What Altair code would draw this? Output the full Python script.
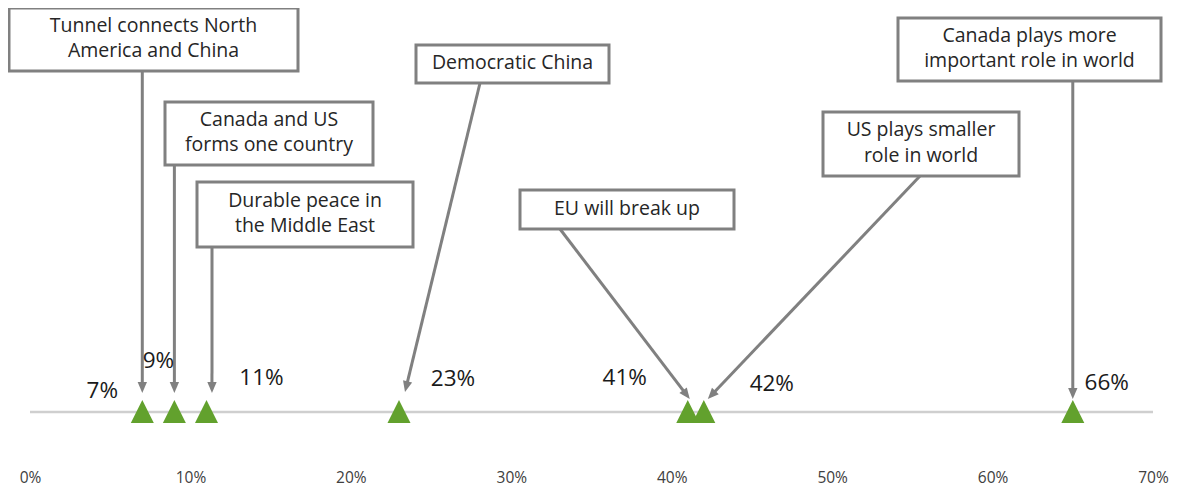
import math
import altair as alt
import pandas as pd

# ---------------- data ----------------
events = [
    "Tunnel connects North\nAmerica and China",
    "Canada and US\nforms one country",
    "Durable peace in\nthe Middle East",
    "Democratic China",
    "EU will break up",
    "US plays smaller\nrole in world",
    "Canada plays more\nimportant role in world",
]
pct_labels = ["7%", "9%", "11%", "23%", "41%", "42%", "66%"]
marker_pos = [7, 9, 11, 23, 41, 42, 65]
x_ticks = [0, 10, 20, 30, 40, 50, 60, 70]

# ---------------- layout (page pixels) ----------------
PLOT_LEFT = 30
PLOT_W = 1123
H = 455
PX = PLOT_W / (max(x_ticks) - min(x_ticks))


def to_x(px):
    return (px - PLOT_LEFT) / PX + min(x_ticks)


def to_px(v):
    return PLOT_LEFT + (v - min(x_ticks)) * PX


BASE_Y = 412
MARKER_Y = 411.5
LINE_H = 25.5
# box: x0, y0, x1, y1 ; arrow start (sx, sy) ; tip offset from marker dx ; tip y
boxes = [
    dict(b=(9, 8, 298, 71), s=None, sy=71, tdx=0, ty=393),
    dict(b=(165, 102, 373, 165), s=None, sy=165, tdx=0, ty=393),
    dict(b=(197, 182, 413, 247), s=212, sy=247, tdx=5.5, ty=393),
    dict(b=(416, 45, 609, 83), s=480, sy=83, tdx=6, ty=392),
    dict(b=(520, 190, 734, 229), s=560, sy=229, tdx=2, ty=399),
    dict(b=(823, 112, 1019, 176), s=920, sy=176, tdx=4, ty=399),
    dict(b=(898, 18, 1161, 81), s=None, sy=81, tdx=0, ty=399),
]
# percent label offsets (dx px from marker, page y)
label_layout = [(-40, 391), (-16, 361), (55, 378), (54, 379), (-63, 378), (68, 384), (34, 383)]

HEAD = 11

box_rows, text_rows, shaft_rows, head_rows = [], [], [], []
for ev, pos, lay in zip(events, marker_pos, boxes):
    x0, y0, x1, y1 = lay["b"]
    box_rows.append(dict(x0=to_x(x0), x1=to_x(x1), y0=y0, y1=y1))
    n_lines = ev.count("\n") + 1
    text_rows.append(dict(x=to_x((x0 + x1) / 2), y=(y0 + y1) / 2 - 1 - (n_lines - 1) * LINE_H / 2, t=ev))
    tip_px = to_px(pos) + lay["tdx"]
    sx = lay["s"] if lay["s"] is not None else tip_px
    sy = lay["sy"]
    dx, dy = tip_px - sx, lay["ty"] - sy
    L = math.hypot(dx, dy)
    ux, uy = dx / L, dy / L
    ang = math.degrees(math.atan2(-dx, dy)) % 360
    shaft_rows.append(dict(x0=to_x(sx), y0=sy, x1=to_x(tip_px - ux * (HEAD - 1)), y1=lay["ty"] - uy * (HEAD - 1)))
    head_rows.append(dict(x=to_x(tip_px - ux * HEAD / 2), y=lay["ty"] - uy * HEAD / 2, a=ang))

marker_df = pd.DataFrame(dict(pos=marker_pos, lab=pct_labels, y=[MARKER_Y] * len(marker_pos)))
lab_df = pd.DataFrame(dict(
    x=[p + d / PX for p, (d, _) in zip(marker_pos, label_layout)],
    y=[yy for _, yy in label_layout],
    t=pct_labels,
))
base_df = pd.DataFrame(dict(x0=[min(x_ticks)], x1=[max(x_ticks)], y=[BASE_Y]))

FONT = "Open Sans"
xscale = alt.Scale(domain=[min(x_ticks), max(x_ticks)], nice=False, zero=False)
yscale = alt.Scale(domain=[8 + H, 8], nice=False, zero=False)
xaxis = alt.Axis(
    values=x_ticks, labelExpr="datum.value + '%'", title=None, domain=False, ticks=False,
    grid=False, labelFont=FONT, labelFontSize=15.5, labelColor="#404040", labelPadding=7,
    labelFlush=False, labelOverlap=False,
)


def X(f):
    return alt.X(f, type="quantitative", scale=xscale, axis=xaxis)


def Y(f):
    return alt.Y(f, type="quantitative", scale=yscale, axis=None)


GRAY = "#808080"

baseline = alt.Chart(base_df).mark_rule(color="#cfcfcf", strokeWidth=2.5).encode(
    x=X("x0"), x2="x1", y=Y("y"))

shafts = alt.Chart(pd.DataFrame(shaft_rows)).mark_rule(color=GRAY, strokeWidth=3).encode(
    x=X("x0"), x2="x1", y=Y("y0"), y2="y1")

heads = alt.Chart(pd.DataFrame(head_rows)).mark_point(
    shape="M0,1L-0.85,-1L0.85,-1Z", filled=True, color=GRAY, opacity=1, size=HEAD * HEAD
).encode(x=X("x"), y=Y("y"), angle=alt.Angle("a:Q", scale=None))

rects = alt.Chart(pd.DataFrame(box_rows)).mark_rect(
    fill="white", stroke=GRAY, strokeWidth=3
).encode(x=X("x0"), x2="x1", y=Y("y0"), y2="y1")

btext = alt.Chart(pd.DataFrame(text_rows)).mark_text(
    font=FONT, fontSize=19.5, color="#262626", lineBreak="\n", lineHeight=LINE_H,
    align="center", baseline="middle"
).encode(x=X("x"), y=Y("y"), text="t:N")

markers = alt.Chart(marker_df).mark_point(
    shape="M0,-1L1,1L-1,1Z", filled=True, color="#62a12d", opacity=1, size=529
).encode(x=X("pos"), y=Y("y"))

plabels = alt.Chart(lab_df).mark_text(
    font=FONT, fontSize=22.5, color="#1a1a1a", align="center", baseline="middle"
).encode(x=X("x"), y=Y("y"), text="t:N")

chart = alt.layer(baseline, shafts, heads, rects, btext, markers, plabels).properties(
    width=PLOT_W, height=H,
    autosize=alt.AutoSizeParams(type="none"),
    padding={"left": 22, "top": 0, "right": 16, "bottom": 25},
).configure_view(stroke=None)

chart.save("out.html", embed_options={"renderer": "svg", "actions": False})
